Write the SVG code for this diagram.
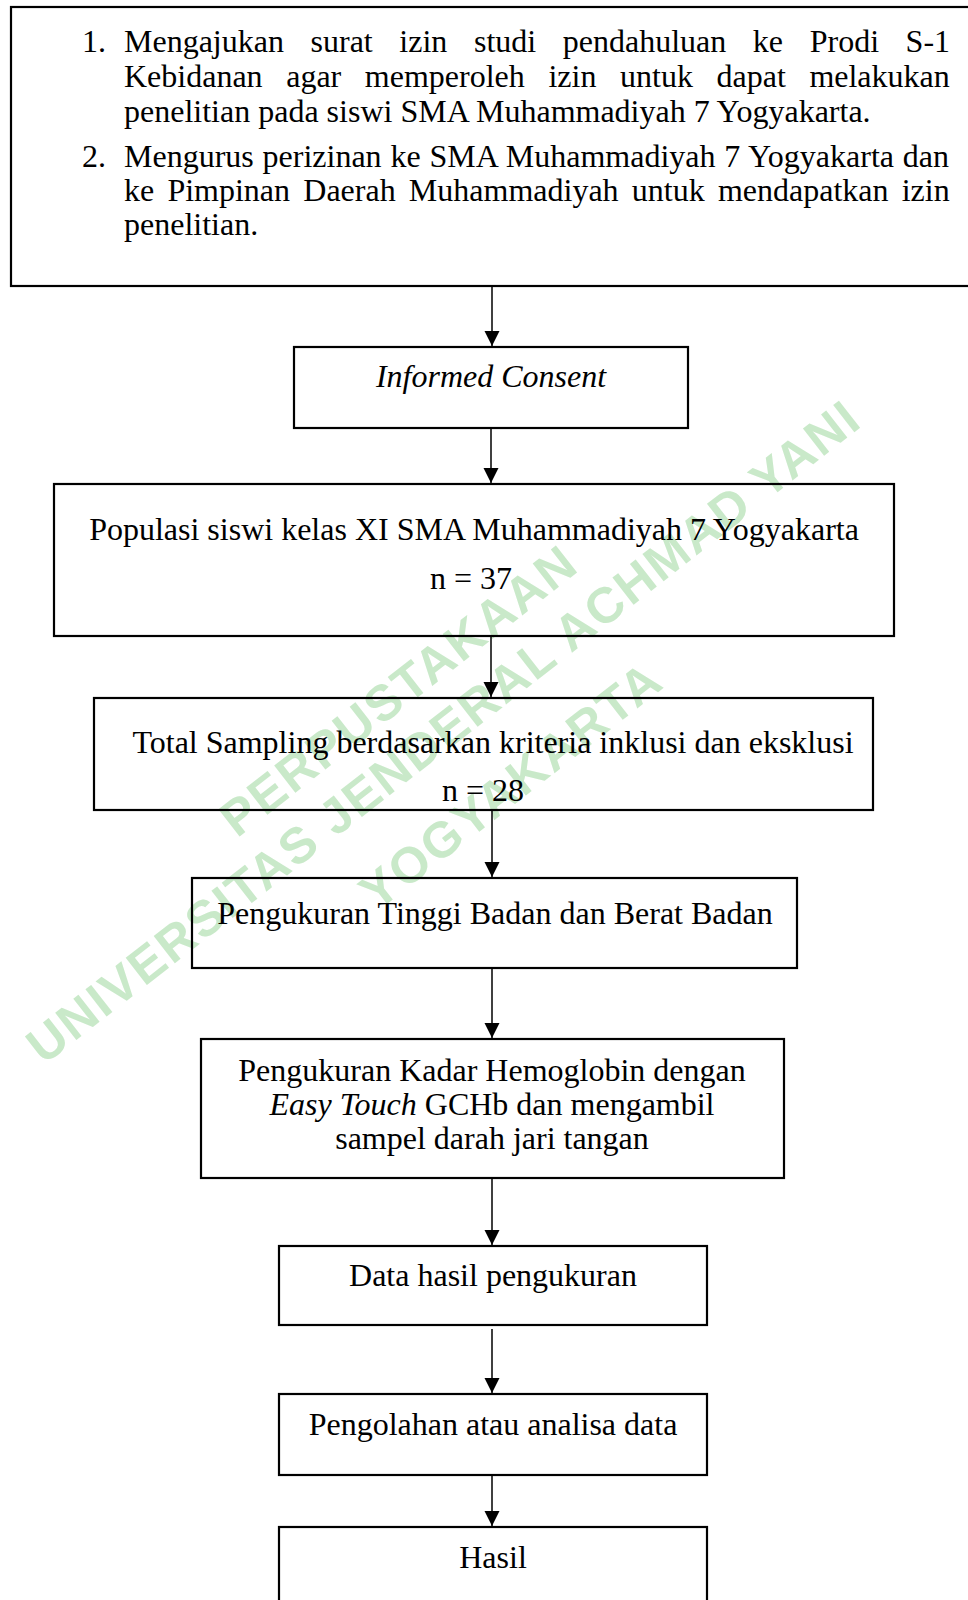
<svg xmlns="http://www.w3.org/2000/svg" width="968" height="1600" viewBox="0 0 968 1600">
<defs>
<style>
.box{fill:none;stroke:#000;stroke-width:2.2}
.t{font-family:"Liberation Serif","Times New Roman",serif;font-size:32px;fill:#000}
.c{text-anchor:middle}
.wm{font-family:"Liberation Sans",Arial,sans-serif;font-weight:bold;font-size:50px;fill:#c9e9c9;text-anchor:middle;letter-spacing:2px}
.ln{stroke:#000;stroke-width:1.5;fill:none}
</style>
<marker id="ah" markerUnits="userSpaceOnUse" markerWidth="16" markerHeight="16" refX="15" refY="7.5" orient="auto">
<path d="M0,0 L15,7.5 L0,15 z" fill="#000"/>
</marker>
</defs>
<rect width="968" height="1600" fill="#fff"/>
<g id="watermark" transform="translate(454,745) rotate(-38)">
<text class="wm" x="-10" y="-60">PERPUSTAKAAN</text>
<text class="wm" x="0" y="0">UNIVERSITAS JENDERAL ACHMAD YANI</text>
<text class="wm" x="20" y="84">YOGYAKARTA</text>
</g>
<g id="connectors">
<line class="ln" x1="492" y1="286" x2="492" y2="346" marker-end="url(#ah)"/>
<line class="ln" x1="491" y1="428" x2="491" y2="483" marker-end="url(#ah)"/>
<line class="ln" x1="491" y1="636" x2="491" y2="697" marker-end="url(#ah)"/>
<line class="ln" x1="492" y1="810" x2="492" y2="877" marker-end="url(#ah)"/>
<line class="ln" x1="492" y1="968" x2="492" y2="1038" marker-end="url(#ah)"/>
<line class="ln" x1="492" y1="1178" x2="492" y2="1245" marker-end="url(#ah)"/>
<line class="ln" x1="492" y1="1329" x2="492" y2="1393" marker-end="url(#ah)"/>
<line class="ln" x1="492" y1="1475" x2="492" y2="1526" marker-end="url(#ah)"/>
</g>
<g id="n1">
<rect class="box" x="11" y="7" width="1000" height="279"/>
<text class="t" x="82" y="52">1.</text>
<text class="t" x="124" y="52" word-spacing="18.6">Mengajukan surat izin studi pendahuluan ke Prodi S-1</text>
<text class="t" x="124" y="87" word-spacing="15.6">Kebidanan agar memperoleh izin untuk dapat melakukan</text>
<text class="t" x="124" y="122">penelitian pada siswi SMA Muhammadiyah 7 Yogyakarta.</text>
<text class="t" x="82" y="167">2.</text>
<text class="t" x="124" y="167" word-spacing="0.8">Mengurus perizinan ke SMA Muhammadiyah 7 Yogyakarta dan</text>
<text class="t" x="124" y="201" word-spacing="5.2">ke Pimpinan Daerah Muhammadiyah untuk mendapatkan izin</text>
<text class="t" x="124" y="235">penelitian.</text>
</g>
<g id="n2">
<rect class="box" x="294" y="347" width="394" height="81"/>
<text class="t c" x="491" y="387" font-style="italic">Informed Consent</text>
</g>
<g id="n3">
<rect class="box" x="54" y="484" width="840" height="152"/>
<text class="t c" x="474" y="540">Populasi siswi kelas XI SMA Muhammadiyah 7 Yogyakarta</text>
<text class="t c" x="471" y="589">n = 37</text>
</g>
<g id="n4">
<rect class="box" x="94" y="698" width="779" height="112"/>
<text class="t c" x="493" y="753">Total Sampling berdasarkan kriteria inklusi dan eksklusi</text>
<text class="t c" x="483" y="801">n = 28</text>
</g>
<g id="n5">
<rect class="box" x="192" y="878" width="605" height="90"/>
<text class="t c" x="495" y="924">Pengukuran Tinggi Badan dan Berat Badan</text>
</g>
<g id="n6">
<rect class="box" x="201" y="1039" width="583" height="139"/>
<text class="t c" x="492" y="1081">Pengukuran Kadar Hemoglobin dengan</text>
<text class="t c" x="492" y="1115"><tspan font-style="italic">Easy Touch</tspan> GCHb dan mengambil</text>
<text class="t c" x="492" y="1149">sampel darah jari tangan</text>
</g>
<g id="n7">
<rect class="box" x="279" y="1246" width="428" height="79"/>
<text class="t c" x="493" y="1286">Data hasil pengukuran</text>
</g>
<g id="n8">
<rect class="box" x="279" y="1394" width="428" height="81"/>
<text class="t c" x="493" y="1435">Pengolahan atau analisa data</text>
</g>
<g id="n9">
<rect class="box" x="279" y="1527" width="428" height="100"/>
<text class="t c" x="493" y="1568">Hasil</text>
</g>
</svg>
